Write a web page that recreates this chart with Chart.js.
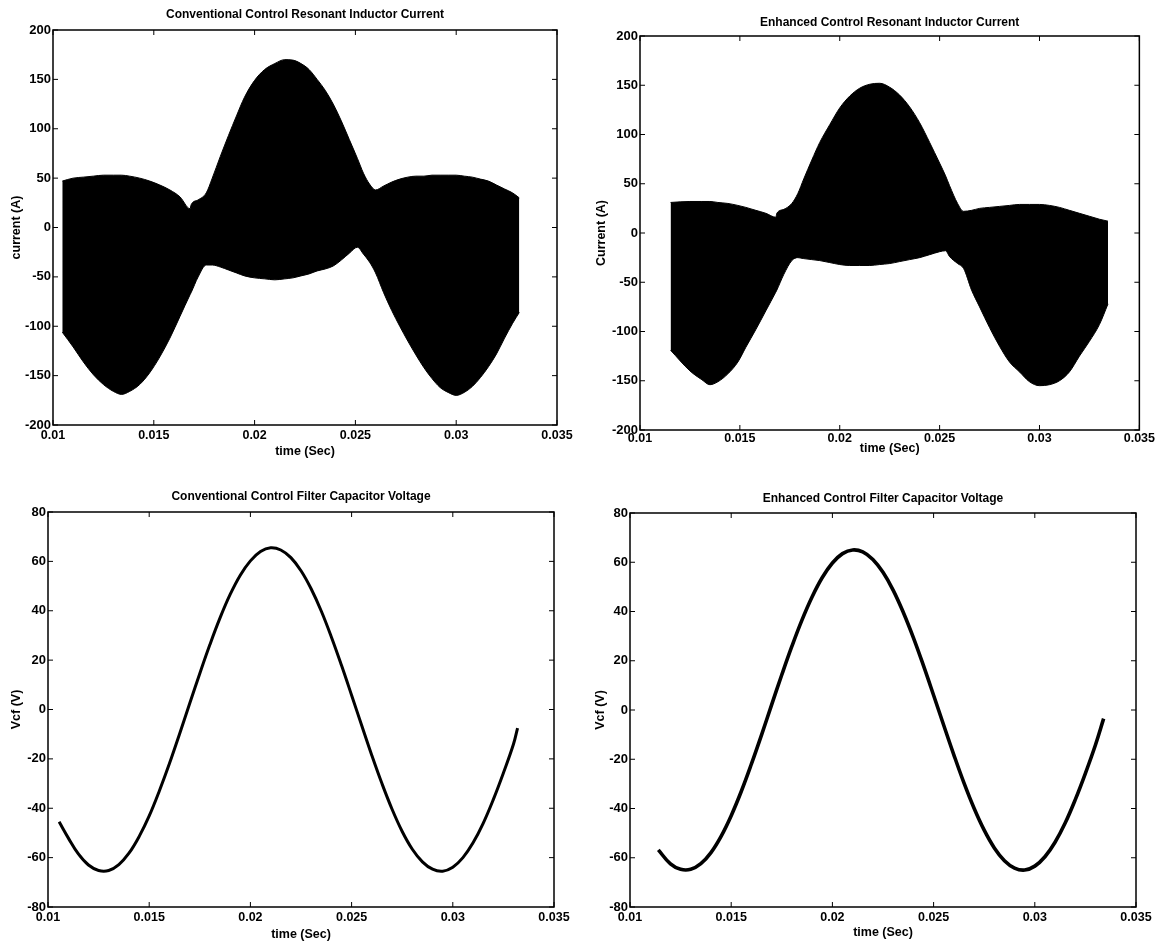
<!DOCTYPE html>
<html lang="en">
<head>
<meta charset="UTF-8">
<title>Conventional vs Enhanced Control</title>
<script src="https://cdn.jsdelivr.net/npm/chart.js"></script>
<style>
  body { margin: 0; background: #fff; width: 1156px; height: 942px; position: relative; overflow: hidden; }
  canvas { position: absolute; }
</style>
</head>
<body>
<canvas id="convCurrent" width="580" height="470" style="left:0px;top:0px"></canvas>
<canvas id="enhCurrent" width="576" height="470" style="left:580px;top:0px"></canvas>
<canvas id="convVoltage" width="580" height="472" style="left:0px;top:470px"></canvas>
<canvas id="enhVoltage" width="576" height="472" style="left:580px;top:470px"></canvas>

<script>
// tick labels
const timeTicks = [0.01, 0.015, 0.02, 0.025, 0.03, 0.035];
const currentTicks = [-200, -150, -100, -50, 0, 50, 100, 150, 200];
const voltageTicks = [-80, -60, -40, -20, 0, 20, 40, 60, 80];

// conventional control inductor current: envelope of the fast oscillation (A)
const convTime = [0.01046, 0.0110, 0.0115, 0.0120, 0.0125, 0.0130, 0.0134, 0.0138, 0.0143, 0.0148,
  0.0153, 0.0158, 0.0163, 0.0168, 0.01685, 0.0172, 0.0176, 0.0179, 0.0183, 0.0187,
  0.0191, 0.0195, 0.0200, 0.0205, 0.0210, 0.0215, 0.0219, 0.0223, 0.0227, 0.0231,
  0.0235, 0.0239, 0.0243, 0.0247, 0.0251, 0.0254, 0.0257, 0.0260, 0.0264, 0.0268,
  0.0272, 0.0276, 0.0280, 0.0284, 0.0288, 0.0292, 0.0296, 0.0300, 0.0304, 0.0308,
  0.0312, 0.0316, 0.0320, 0.0324, 0.0328, 0.03313];
const convUpper = [47, 50, 51, 52, 53, 53, 53, 52, 50, 47,
  43, 38, 31, 19, 23, 28, 35, 50, 72, 93,
  113, 132, 149, 160, 166, 170, 169.5, 166, 160, 150,
  139, 125, 108, 89, 70, 55, 44, 38, 42, 46,
  49, 51, 52, 52, 53, 53, 53, 53, 52, 51,
  49, 47, 43, 39, 35, 30];
const convLower = [-106, -121, -136, -149, -159, -166, -169, -166, -159, -147,
  -131, -112, -90, -68, -66, -50, -38, -38, -40, -43,
  -46, -49, -51, -52, -53, -52, -51, -49, -47, -44,
  -42, -39, -33, -26, -20, -27, -35, -46, -66, -84,
  -100, -115, -129, -142, -153, -162, -167, -170, -167, -161,
  -152, -141, -128, -112, -97, -86];

// enhanced control inductor current envelope (A)
const enhTime = [0.01153, 0.0125, 0.0131, 0.0135, 0.0139, 0.0144, 0.0149, 0.0153, 0.0158, 0.0163,
  0.0168, 0.01685, 0.0172, 0.0176, 0.0179, 0.0182, 0.0186, 0.0190, 0.0195, 0.0200,
  0.0205, 0.0210, 0.0215, 0.0220, 0.0225, 0.0230, 0.0235, 0.0240, 0.0245, 0.0250,
  0.0253, 0.0255, 0.0259, 0.0262, 0.0266, 0.0270, 0.0275, 0.0280, 0.0285, 0.0290,
  0.0295, 0.0300, 0.0305, 0.0310, 0.0315, 0.0320, 0.0325, 0.0330, 0.03343];
const enhUpper = [31, 32, 32, 32, 31, 30, 28, 26, 23, 20,
  16, 20, 24, 30, 40, 55, 74, 92, 110, 127,
  139, 147, 151, 152, 148, 140, 128, 112, 92, 71,
  58, 48, 30, 22, 23, 25, 26, 27, 28, 29,
  29, 29, 28, 26, 23, 20, 17, 14, 12];
const enhLower = [-119, -140, -149, -154, -151, -143, -131, -116, -98, -79,
  -60, -58, -42, -28, -25, -26, -27, -28, -30, -32,
  -33, -33, -33, -32, -31, -29, -27, -25, -22, -19,
  -18, -24, -31, -36, -58, -75, -96, -115, -131, -141,
  -151, -155, -154, -150, -141, -125, -110, -93, -72];

// conventional control filter capacitor voltage (V)
const convVTime = [0.01055, 0.0110, 0.0115, 0.0120, 0.0125, 0.0130, 0.0135, 0.0140, 0.0145, 0.0150,
  0.0155, 0.0160, 0.0165, 0.0170, 0.0175, 0.0180, 0.0185, 0.0190, 0.0195, 0.0200,
  0.0205, 0.0210, 0.0215, 0.0220, 0.0225, 0.0230, 0.0235, 0.0240, 0.0245, 0.0250,
  0.0255, 0.0260, 0.0265, 0.0270, 0.0275, 0.0280, 0.0285, 0.0290, 0.0295, 0.0300,
  0.0305, 0.0310, 0.0315, 0.0320, 0.0325, 0.0330, 0.0332];
const convVcf = [-45.5, -52.0, -58.5, -63.0, -65.2, -65.2, -62.8, -58.2, -51.5, -43.1,
  -33.0, -21.9, -9.9, 2.4, 14.6, 26.3, 37.1, 46.6, 54.4, 60.2,
  64.0, 65.5, 64.6, 61.5, 56.2, 48.9, 39.9, 29.4, 17.9, 5.8,
  -6.5, -18.6, -30.0, -40.4, -49.4, -56.6, -61.7, -64.7, -65.5, -63.9,
  -60.0, -54.0, -46.1, -36.5, -25.7, -14.0, -7.5];

// enhanced control filter capacitor voltage (V)
const enhVTime = [0.0114, 0.0120, 0.0125, 0.0130, 0.0135, 0.0140, 0.0145, 0.0150, 0.0155, 0.0160,
  0.0165, 0.0170, 0.0175, 0.0180, 0.0185, 0.0190, 0.0195, 0.0200, 0.0205, 0.0210,
  0.0215, 0.0220, 0.0225, 0.0230, 0.0235, 0.0240, 0.0245, 0.0250, 0.0255, 0.0260,
  0.0265, 0.0270, 0.0275, 0.0280, 0.0285, 0.0290, 0.0295, 0.0300, 0.0305, 0.0310,
  0.0315, 0.0320, 0.0325, 0.0330, 0.0334];
const enhVcf = [-56.8, -62.5, -64.7, -64.7, -62.4, -57.9, -51.3, -42.9, -33.0, -21.9,
  -10.1, 2.2, 14.3, 25.9, 36.6, 46.0, 53.8, 59.7, 63.5, 65.0,
  64.2, 61.1, 55.9, 48.7, 39.7, 29.4, 18.0, 6.0, -6.2, -18.2,
  -29.6, -39.9, -48.8, -56.0, -61.2, -64.2, -65.0, -63.4, -59.6, -53.7,
  -45.9, -36.4, -25.7, -14.1, -3.5];

Chart.defaults.font.family = '"Liberation Sans", Arial, Helvetica, sans-serif';
Chart.defaults.color = '#000';

function pts(xs, ys) {
  return xs.map((x, i) => ({ x: x, y: ys[i] }));
}

// matlab style box with inward ticks on all four sides
const boxTicks = {
  id: 'boxTicks',
  afterDraw(chart) {
    const { ctx, chartArea: a, scales: { x, y } } = chart;
    ctx.save();
    ctx.strokeStyle = '#000';
    ctx.lineWidth = 1.5;
    ctx.strokeRect(a.left, a.top, a.right - a.left, a.bottom - a.top);
    ctx.lineWidth = 1;
    ctx.beginPath();
    x.ticks.forEach(t => {
      const px = x.getPixelForValue(t.value);
      ctx.moveTo(px, a.bottom); ctx.lineTo(px, a.bottom - 5);
      ctx.moveTo(px, a.top); ctx.lineTo(px, a.top + 5);
    });
    y.ticks.forEach(t => {
      const py = y.getPixelForValue(t.value);
      ctx.moveTo(a.left, py); ctx.lineTo(a.left + 5, py);
      ctx.moveTo(a.right, py); ctx.lineTo(a.right - 5, py);
    });
    ctx.stroke();
    ctx.restore();
  }
};

function plotPanel(id, p) {
  new Chart(document.getElementById(id), {
    type: 'line',
    data: { datasets: p.datasets },
    options: {
      responsive: false,
      animation: false,
      layout: { padding: p.pad },
      elements: { point: { radius: 0 } },
      plugins: {
        legend: { display: false },
        tooltip: { enabled: false },
        title: {
          display: true,
          text: p.title,
          fullSize: false,
          color: '#000',
          font: { size: 12, weight: 'bold' },
          padding: p.titlePad
        }
      },
      scales: {
        x: {
          type: 'linear',
          min: 0.01, max: 0.035,
          grid: { display: false, drawTicks: false },
          border: { display: false },
          afterBuildTicks: s => { s.ticks = timeTicks.map(v => ({ value: v })); },
          afterFit: s => { s.height = p.xH; },
          ticks: {
            padding: p.xTickPad,
            maxRotation: 0,
            font: { size: 12.5, weight: 'bold' },
            callback: v => String(parseFloat(v.toFixed(3)))
          },
          title: {
            display: true,
            text: 'time (Sec)',
            font: { size: 12.5, weight: 'bold' },
            padding: 0
          }
        },
        y: {
          min: p.yTicks[0], max: p.yTicks[p.yTicks.length - 1],
          grid: { display: false, drawTicks: false },
          border: { display: false },
          afterBuildTicks: s => { s.ticks = p.yTicks.map(v => ({ value: v })); },
          afterFit: s => { s.width = p.yW; },
          ticks: {
            padding: 2,
            font: { size: 13, weight: 'bold' },
            callback: v => String(v)
          },
          title: {
            display: true,
            text: p.yTitle,
            font: { size: 12.5, weight: 'bold' },
            padding: { top: p.yTitlePad, bottom: 0 }
          }
        }
      }
    },
    plugins: [boxTicks]
  });
}

function envelope(time, lower, upper) {
  return [
    { data: pts(time, lower), borderColor: '#000', borderWidth: 1, fill: false, cubicInterpolationMode: 'monotone' },
    { data: pts(time, upper), borderColor: '#000', borderWidth: 1, backgroundColor: '#000', fill: '-1', cubicInterpolationMode: 'monotone' }
  ];
}

function wave(time, vals, width) {
  return [{ data: pts(time, vals), borderColor: '#000', borderWidth: width, fill: false, tension: 0.4 }];
}

plotPanel('convCurrent', {
  title: 'Conventional Control Resonant Inductor Current',
  yTitle: 'current (A)',
  yTicks: currentTicks,
  datasets: envelope(convTime, convLower, convUpper),
  pad: { left: 0, right: 23, top: 0, bottom: 10.5 },
  titlePad: { top: 7.8, bottom: 7.8 },
  yW: 53, xH: 34.5, yTitlePad: 9.5, xTickPad: 3
});

plotPanel('enhCurrent', {
  title: 'Enhanced Control Resonant Inductor Current',
  yTitle: 'Current (A)',
  yTicks: currentTicks,
  datasets: envelope(enhTime, enhLower, enhUpper),
  pad: { left: 0, right: 16, top: 0, bottom: 14 },
  titlePad: { top: 15.8, bottom: 5.8 },
  yW: 60, xH: 26, yTitlePad: 14.5, xTickPad: 1
});

plotPanel('convVoltage', {
  title: 'Conventional Control Filter Capacitor Voltage',
  yTitle: 'Vcf (V)',
  yTicks: voltageTicks,
  datasets: wave(convVTime, convVcf, 3),
  pad: { left: 0, right: 26, top: 0, bottom: 0 },
  titlePad: { top: 19.8, bottom: 7.8 },
  yW: 48, xH: 35, yTitlePad: 9.5, xTickPad: 3
});

plotPanel('enhVoltage', {
  title: 'Enhanced Control Filter Capacitor Voltage',
  yTitle: 'Vcf (V)',
  yTicks: voltageTicks,
  datasets: wave(enhVTime, enhVcf, 3.6),
  pad: { left: 0, right: 20, top: 0, bottom: 1.5 },
  titlePad: { top: 21.8, bottom: 6.8 },
  yW: 50, xH: 33.5, yTitlePad: 13.5, xTickPad: 3
});
</script>
</body>
</html>
